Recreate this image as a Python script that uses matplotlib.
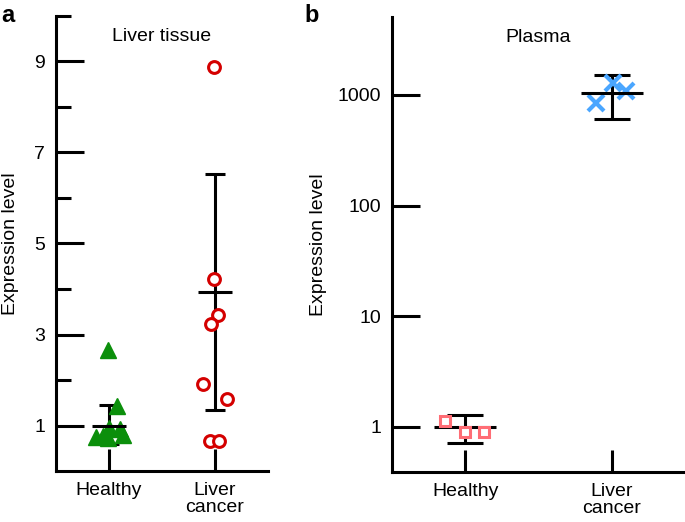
import numpy as np
import matplotlib.pyplot as plt
from matplotlib.ticker import FixedLocator, NullLocator, FixedFormatter

plt.rcParams['font.family'] = ['Liberation Sans', 'DejaVu Sans']
plt.rcParams['font.size'] = 14

groups = ['Healthy', 'Liver\ncancer']

# panel a: liver tissue
tissue_healthy = [2.65, 1.42, 0.95, 0.92, 0.74, 0.72, 0.80, 0.76]
tissue_healthy_dx = [-0.01, 0.075, 0.0, 0.1, -0.12, -0.01, 0.13, -0.06]
tissue_cancer = [8.87, 4.23, 3.42, 3.22, 1.92, 1.59, 0.65, 0.65]
tissue_cancer_dx = [-0.01, -0.01, 0.03, -0.04, -0.11, 0.11, -0.05, 0.04]
tissue_mean = [1.0, 3.93]
tissue_low = [0.6, 1.35]
tissue_high = [1.46, 6.52]

# panel b: plasma
plasma_healthy = [1.13, 0.90, 0.90]
plasma_healthy_dx = [-0.14, 0.0, 0.13]
plasma_cancer = [845, 1280, 1084]
plasma_cancer_dx = [-0.11, 0.01, 0.10]
plasma_mean = [1.0, 1040]
plasma_low = [0.72, 605]
plasma_high = [1.28, 1513]

green = '#0b8f0b'
red = '#d40000'
pink = '#ff6d75'
blue = '#4aa6ff'

fig = plt.figure(figsize=(6.85, 5.22), dpi=100)
ax1 = fig.add_axes([56/685, 51/522, 212/685, 455/522])
ax2 = fig.add_axes([392/685, 50/522, 293/685, 455/522])


def style(ax):
    for s in ['top', 'right']:
        ax.spines[s].set_visible(False)
    for s in ['left', 'bottom']:
        ax.spines[s].set_linewidth(2.2)
    ax.tick_params(direction='in', width=2.2, pad=8, labelsize=14)
    ax.tick_params(axis='x', length=16, pad=8)
    ax.set_xlim(0.5, 2.5)
    ax.set_xticks([1, 2])
    ax.set_xticklabels(groups, linespacing=1.0)


def errbars(ax, mean, low, high, half, cap):
    x = np.array([1, 2])
    m = np.array(mean)
    err = [m - np.array(low), np.array(high) - m]
    ax.errorbar(x, m, yerr=err, fmt='none', ecolor='black', elinewidth=2.2,
                capsize=cap, capthick=2.2, zorder=2)
    # mean line sits on top of the points
    ax.hlines(m, x - half, x + half, colors='black', linewidth=2.2, zorder=4)


# panel a
style(ax1)
errbars(ax1, tissue_mean, tissue_low, tissue_high, 0.165, 7.5)
ax1.plot(1 + np.array(tissue_healthy_dx), tissue_healthy, '^', ms=11,
         color=green, mec=green, zorder=3, clip_on=False)
ax1.plot(2 + np.array(tissue_cancer_dx), tissue_cancer, 'o', ms=8.5, mew=2.2,
         mfc='white', mec=red, zorder=3, clip_on=False)
ax1.set_ylim(0, 10)
ax1.yaxis.set_major_locator(FixedLocator([1, 3, 5, 7, 9]))
ax1.yaxis.set_minor_locator(FixedLocator([2, 4, 6, 8, 10]))
ax1.tick_params(axis='y', which='major', length=20)
ax1.tick_params(axis='y', which='minor', length=10.5, width=2.2, direction='in')
ax1.set_ylabel('Expression level', fontsize=14)
ax1.yaxis.set_label_coords(-0.175, 0.5)
ax1.text(0.5, 0.955, 'Liver tissue', transform=ax1.transAxes,
         ha='center', va='center', fontsize=14)

# panel b
style(ax2)
ax2.set_yscale('log')
errbars(ax2, plasma_mean, plasma_low, plasma_high, 0.21, 13)
ax2.plot(1 + np.array(plasma_healthy_dx), plasma_healthy, 's', ms=7.5, mew=2.2,
         mfc='white', mec=pink, zorder=5)
ax2.plot(2 + np.array(plasma_cancer_dx), plasma_cancer, 'x', ms=11.5, mew=3,
         color=blue, zorder=3)
ax2.set_ylim(0.392, 5060)
ax2.yaxis.set_major_locator(FixedLocator([1, 10, 100, 1000]))
ax2.yaxis.set_major_formatter(FixedFormatter(['1', '10', '100', '1000']))
ax2.yaxis.set_minor_locator(NullLocator())
ax2.tick_params(axis='y', which='major', length=20)
ax2.set_ylabel('Expression level', fontsize=14)
ax2.yaxis.set_label_coords(-0.223, 0.5)
ax2.text(0.5, 0.955, 'Plasma', transform=ax2.transAxes,
         ha='center', va='center', fontsize=14)

fig.text(1/685, 1 - 22/522, 'a', fontsize=17, fontweight='bold', va='baseline')
fig.text(304/685, 1 - 22/522, 'b', fontsize=17, fontweight='bold', va='baseline')

fig.savefig('out.png', dpi=100)
